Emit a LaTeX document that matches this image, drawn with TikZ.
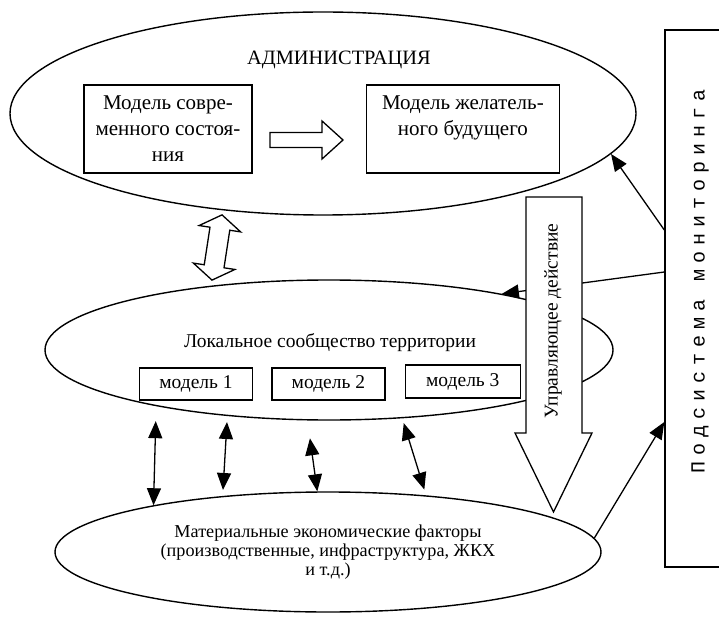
\documentclass[tikz,border=0pt]{standalone}
\usepackage{fontspec}
\setmainfont{Liberation Serif}
\newfontfamily\monfont{Liberation Mono}[LetterSpace=30]
\usetikzlibrary{positioning,calc,arrows.meta,shapes.geometric}
\tikzset{every node/.style={align=center}, >={Triangle[length=17pt,width=14pt]}, font=\fontsize{19.5}{25}\selectfont}
\tikzset{oval/.style={draw, ellipse, line width=1.4pt, inner sep=0pt},
         box/.style={draw, rectangle, line width=1.4pt, inner sep=0pt},
         link/.style={<->, line width=1.3pt},
         hollow/.style={draw, fill=white, line width=1.3pt, line join=miter}}

\begin{document}
\begin{tikzpicture}[x=1pt, y=-1pt]
    \useasboundingbox (0,0) rectangle (719,617);
    \clip (0,0) rectangle (719,617);

    \node [oval, minimum width=626, minimum height=203] (adm) at (323,113.5) {};
    \node [font=\fontsize{20.4}{25}\selectfont] (admtxt) at (339,60) {АДМИНИСТРАЦИЯ};
    \node [box, minimum width=168, minimum height=88, font=\fontsize{21}{26}\selectfont] (now) at (168,129) {Модель совре-\\менного состоя-\\ния};
    \node [box, minimum width=193, minimum height=88, right=113pt of now, font=\fontsize{21}{26}\selectfont] (fut) {Модель желатель-\\ного будущего\\\phantom{ния}};
    \draw [hollow] (270,132.5) -- (322,132.5) -- (322,121) -- (343,140) -- (322,159) -- (322,147.5) -- (270,147.5) -- cycle;

    % two-way arrow between administration and community
    \begin{scope}[shift={(217,247.5)}, rotate=-8.7]
        \draw [hollow] (0,-33) -- (21,-19) -- (10,-19) -- (10,19) -- (21,19) -- (0,33)
            -- (-21,19) -- (-10,19) -- (-10,-19) -- (-21,-19) -- cycle;
    \end{scope}

    \node [oval, minimum width=568, minimum height=140] (loc) at (329,350) {};
    \node (loctxt) at (330,343) {Локальное сообщество территории};
    \node [box, minimum width=113, minimum height=32] (m1) at (196,384) {модель 1};
    \node [box, minimum width=113, minimum height=32, right=18pt of m1] (m2) {модель 2};
    \node [box, minimum width=115, minimum height=33, right=19pt of m2, yshift=2.5pt] (m3) {модель 3};

    \node [oval, minimum width=546, minimum height=120, font=\fontsize{18.2}{18.8}\selectfont] (mat) at (328,552)
        {Материальные экономические факторы\\(производственные, инфраструктура, ЖКХ\\и т.д.)};

    \node [box, minimum width=70, minimum height=537] (mon) at (700,298.5) {};
    \node [rotate=90, font=\monfont\fontsize{20}{24}\selectfont] (montxt) at (700,281.5) {Подсистема мониторинга};

    \draw [->, line width=1.3pt] ($(mon.west)+(0,-68.5)$) -- (adm.352);
    \draw [->, line width=1.3pt] ($(mon.west)+(0,-26.5)$) -- (loc.18.6);
    \draw [->, line width=1.3pt] (mat.3.7) -- ($(mon.west)+(0,123.5)$);

    \draw [link, shorten <=15pt] (loc.198.7) -- (mat.165.4);
    \draw [link, shorten <=6pt, shorten >=6pt] (loc.213.5) -- (mat.152.5);
    \draw [link, shorten <=18pt] (loc.253.3) -- (mat.100.4);
    \draw [link, shorten <=5pt, shorten >=6pt] (loc.317.6) -- (mat.30.9);

    % control action
    \draw [hollow] (526,197) -- (582,197) -- (582,433) -- (592,433) -- (553.5,512) -- (515,433) -- (526,433) -- cycle;
    \node [rotate=90] (ctl) at (553,321) {Управляющее действие};
\end{tikzpicture}
\end{document}
